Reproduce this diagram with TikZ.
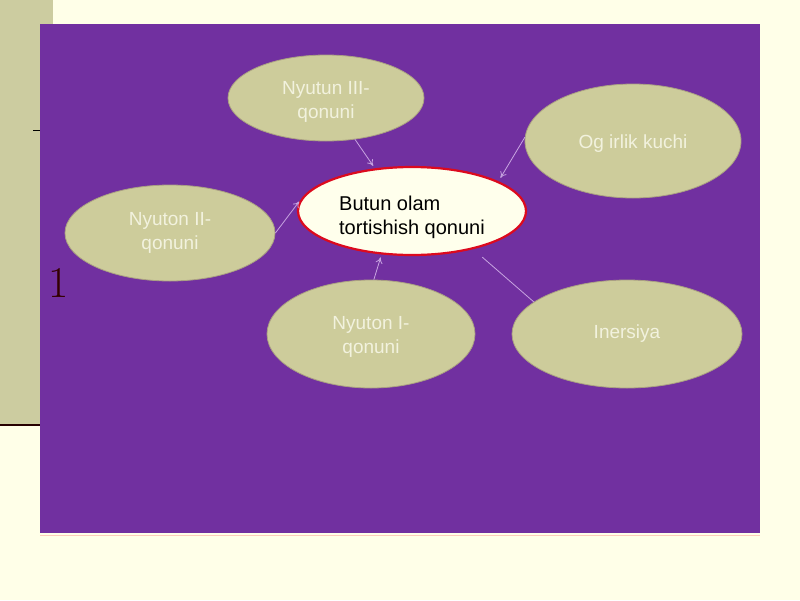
\documentclass[tikz,border=0pt]{standalone}
\usepackage{fontspec}
\setmainfont{Liberation Sans}
\newfontfamily\lmfont{Latin Modern Roman}
\usetikzlibrary{shapes.geometric,arrows.meta}
\definecolor{bgcream}{RGB}{255,255,232}
\definecolor{panel}{RGB}{204,204,160}
\definecolor{slide}{RGB}{113,48,160}
\definecolor{khaki}{RGB}{205,204,155}
\definecolor{khakiedge}{RGB}{170,160,130}
\definecolor{satText}{RGB}{242,242,222}
\definecolor{linkc}{RGB}{200,165,225}
\definecolor{centerfill}{RGB}{255,255,236}
\definecolor{centeredge}{RGB}{220,10,30}
\newcommand{\lowr}[2]{\raisebox{-#1}[\height][\depth]{#2}}
\begin{document}
\begin{tikzpicture}[x=1pt,y=-1pt,
  sat/.style={ellipse,fill=khaki,draw=khakiedge,line width=0.8pt,inner sep=0pt,
    text=satText,align=center,font=\fontsize{19}{24}\selectfont},
  hub/.style={ellipse,fill=centerfill,draw=centeredge,line width=2.2pt,inner sep=0pt,
    align=left,font=\fontsize{20}{24}\selectfont},
  link/.style={draw=linkc,line width=0.8pt,-{To[length=6pt,width=7pt]}},
  plainlink/.style={draw=linkc,line width=0.8pt}]
\useasboundingbox (0,0) rectangle (800,600);
\fill[bgcream] (0,0) rectangle (800,600);
\fill[panel] (0,0) rectangle (53,425);
\draw[black!85!red,line width=2.5pt] (0,425) -- (40,425);
\draw[black,line width=1pt] (33,130) -- (40,130);
\fill[slide] (40,24) rectangle (760,533);
\draw[red!20!bgcream,line width=1pt] (40,535) -- (760,535);
\node[font=\lmfont\fontsize{44}{44}\selectfont,text=black!80!red,inner sep=0pt] (one) at (59,283) {1};

\node[hub,minimum width=228pt,minimum height=88pt] (c) at (412,211)
  {\lowr{7pt}{\begin{tabular}{@{}l@{}}Butun olam\\tortishish qonuni\end{tabular}}};
\node[sat,minimum width=196pt,minimum height=86pt] (n3) at (326,98) {\lowr{4pt}{\begin{tabular}{@{}c@{}}Nyutun III-\\qonuni\end{tabular}}};
\node[sat,minimum width=216pt,minimum height=114pt] (og) at (633,141) {\lowr{3pt}{Og irlik kuchi}};
\node[sat,minimum width=210pt,minimum height=96pt] (n2) at (170,233) {\begin{tabular}{@{}c@{}}Nyuton II-\\qonuni\end{tabular}};
\node[sat,minimum width=208pt,minimum height=108pt] (n1) at (371,334) {\lowr{3pt}{\begin{tabular}{@{}c@{}}Nyuton I-\\qonuni\end{tabular}}};
\node[sat,minimum width=230pt,minimum height=108pt] (in) at (627,334) {Inersiya};

\draw[link,shorten >=3pt] (n3.-55) -- (c.131);
\draw[link,shorten >=4pt] (og.178) -- (c.19);
\draw[link,shorten >=5pt] (n2.0) -- (c.173);
\draw[link,shorten >=3pt] (n1.87) -- (c.235);
\draw[plainlink,shorten <=12pt] (c.-32) -- (in.161);
\end{tikzpicture}
\end{document}
